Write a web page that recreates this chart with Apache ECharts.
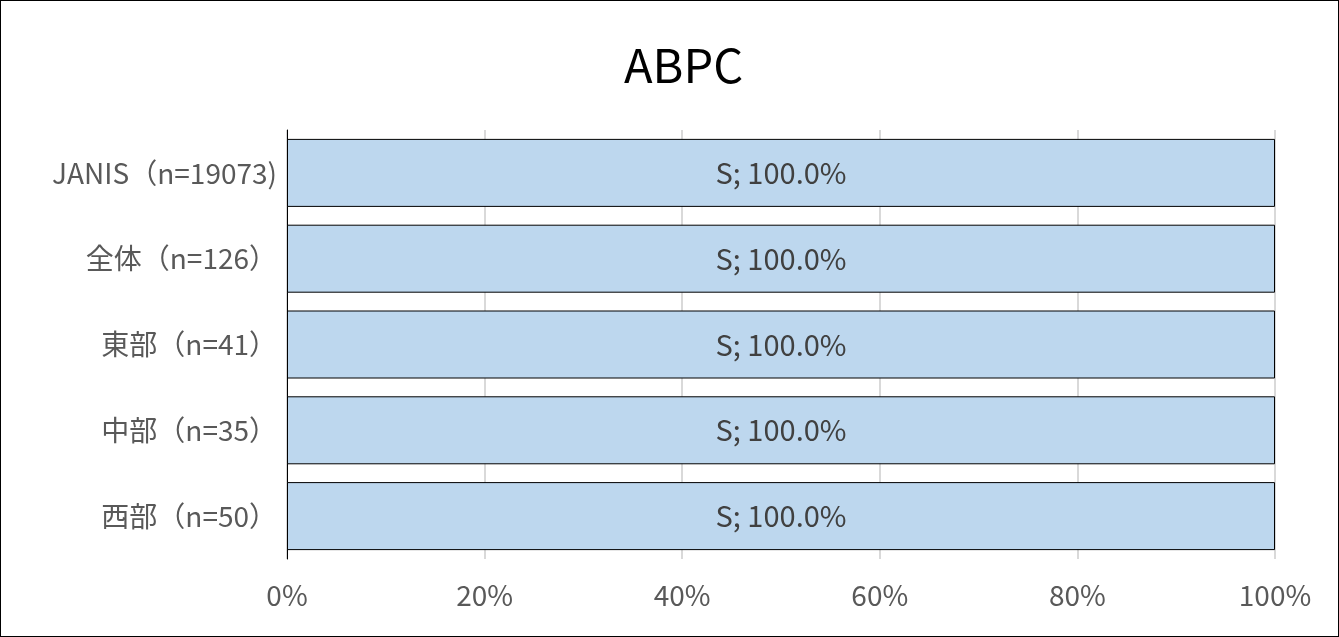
<!DOCTYPE html>
<html>
<head>
<meta charset="utf-8">
<script src="https://cdn.jsdelivr.net/npm/echarts@6/dist/echarts.min.js"></script>
<style>
  html, body { margin: 0; padding: 0; background: #fff; }
  #chart { width: 1339px; height: 637px; box-sizing: border-box; border: 1px solid #000; }
</style>
</head>
<body>
<div id="chart"></div>
<script>
var myChart = echarts.init(document.getElementById('chart'));

// カテゴリ（上から順）
var categories = ['JANIS（n=19073)', '全体（n=126）', '東部（n=41）', '中部（n=35）', '西部（n=50）'];
// 感受性 S の割合 (%)
var sValues = [100.0, 100.0, 100.0, 100.0, 100.0];
var xTicks = [0, 20, 40, 60, 80, 100];

var font = '"Noto Sans CJK JP", "Noto Sans", sans-serif';

option = {
    animation: false,
    backgroundColor: '#fff',
    title: {
        text: 'ABPC',
        left: 618,
        top: 36,
        textStyle: {
            fontFamily: font,
            fontSize: 47,
            fontWeight: 'normal',
            color: '#000'
        }
    },
    grid: {
        left: 286,
        right: 63,
        top: 129,
        bottom: 77,
        containLabel: false
    },
    xAxis: {
        type: 'value',
        min: xTicks[0],
        max: xTicks[xTicks.length - 1],
        interval: 20,
        axisLine: { show: false },
        axisTick: { show: false },
        axisLabel: {
            formatter: '{value}%',
            fontFamily: font,
            fontSize: 28,
            color: '#595959',
            margin: 22
        },
        splitLine: {
            lineStyle: { color: '#d9d9d9', width: 2 }
        }
    },
    yAxis: {
        type: 'category',
        inverse: true,
        data: categories,
        axisLine: { lineStyle: { color: '#000', width: 1 } },
        axisTick: { show: false },
        axisLabel: {
            fontFamily: font,
            fontSize: 28,
            color: '#595959',
            margin: 10
        }
    },
    series: [{
        name: 'S',
        type: 'bar',
        stack: 'total',
        barWidth: 68,
        data: sValues,
        itemStyle: {
            color: '#bdd7ee',
            borderColor: '#000',
            borderWidth: 1
        },
        label: {
            show: true,
            position: 'inside',
            fontFamily: font,
            fontSize: 29,
            color: '#404040',
            formatter: function (p) {
                return p.seriesName + '; ' + p.value.toFixed(1) + '%';
            }
        }
    }]
};

myChart.setOption(option);
</script>
</body>
</html>
